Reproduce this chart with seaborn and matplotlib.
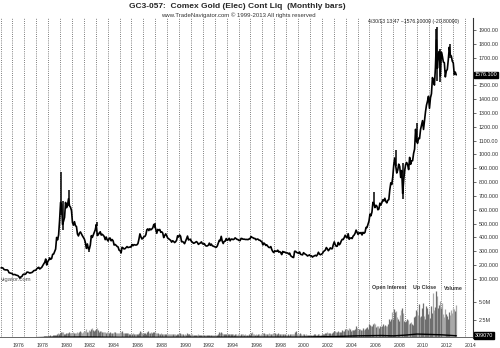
import numpy as np
import pandas as pd
import seaborn as sns
import matplotlib.pyplot as plt
from matplotlib.transforms import blended_transform_factory

# monthly closes (Comex gold, continuous liquid contract), one row per year
closes = [
    # 1975
    180, 181, 178, 168, 166, 165, 166, 161, 145, 143, 141, 139,
    # 1976
    131, 132, 132, 128, 126, 124, 116, 105, 115, 118, 131, 135,
    # 1977
    133, 137, 149, 149, 146, 142, 145, 146, 152, 160, 162, 163,
    # 1978
    174, 180, 184, 172, 178, 184, 197, 209, 220, 244, 201, 226,
    # 1979
    235, 252, 242, 248, 278, 280, 297, 316, 400, 383, 418, 524,
    # 1980
    653, 637, 494, 518, 545, 653, 615, 634, 680, 628, 619, 594,
    # 1981
    507, 489, 514, 485, 479, 425, 411, 431, 440, 426, 412, 400,
    # 1982
    388, 363, 321, 353, 318, 316, 346, 413, 400, 418, 438, 456,
    # 1983
    493, 414, 419, 433, 441, 417, 423, 416, 407, 384, 403, 383,
    # 1984
    374, 395, 395, 376, 385, 375, 345, 349, 343, 335, 331, 308,
    # 1985
    305, 288, 329, 324, 317, 319, 327, 334, 327, 329, 331, 330,
    # 1986
    349, 340, 348, 346, 345, 347, 356, 387, 426, 405, 389, 393,
    # 1987
    406, 407, 420, 456, 462, 450, 463, 455, 461, 470, 494, 487,
    # 1988
    460, 430, 458, 451, 458, 437, 441, 432, 399, 414, 426, 412,
    # 1989
    396, 390, 385, 379, 366, 376, 371, 363, 369, 380, 412, 403,
    # 1990
    418, 409, 369, 370, 365, 355, 372, 390, 410, 382, 385, 387,
    # 1991
    370, 366, 358, 360, 365, 370, 363, 350, 356, 360, 368, 355,
    # 1992
    352, 355, 342, 338, 339, 344, 359, 343, 352, 340, 337, 334,
    # 1993
    331, 329, 338, 358, 379, 376, 408, 373, 356, 372, 373, 392,
    # 1994
    379, 383, 394, 376, 388, 388, 384, 388, 397, 391, 386, 384,
    # 1995
    378, 377, 393, 392, 387, 388, 386, 385, 386, 384, 389, 389,
    # 1996
    407, 401, 398, 393, 393, 383, 388, 388, 381, 380, 373, 369,
    # 1997
    346, 360, 353, 342, 346, 336, 328, 327, 334, 312, 298, 291,
    # 1998
    304, 299, 301, 308, 294, 298, 290, 276, 299, 292, 295, 289,
    # 1999
    288, 288, 280, 287, 268, 262, 257, 255, 300, 300, 292, 289,
    # 2000
    285, 295, 278, 276, 274, 290, 283, 278, 274, 266, 270, 274,
    # 2001
    266, 267, 258, 264, 267, 271, 266, 275, 293, 280, 275, 279,
    # 2002
    283, 297, 303, 309, 327, 318, 304, 313, 325, 318, 319, 348,
    # 2003
    368, 347, 336, 337, 364, 347, 355, 374, 386, 385, 398, 416,
    # 2004
    403, 397, 427, 387, 395, 396, 392, 410, 417, 430, 453, 438,
    # 2005
    422, 435, 429, 436, 418, 437, 430, 437, 472, 472, 495, 518,
    # 2006
    569, 557, 584, 654, 646, 616, 633, 626, 600, 606, 648, 635,
    # 2007
    652, 672, 664, 683, 660, 650, 669, 673, 745, 795, 783, 838,
    # 2008
    926, 975, 916, 866, 887, 930, 914, 834, 884, 718, 816, 884,
    # 2009
    928, 942, 925, 891, 979, 929, 954, 955, 1008, 1039, 1182, 1097,
    # 2010
    1081, 1118, 1115, 1180, 1213, 1245, 1181, 1248, 1309, 1357, 1385, 1421,
    # 2011
    1334, 1410, 1439, 1556, 1536, 1502, 1628, 1829, 1624, 1725, 1746, 1566,
    # 2012
    1740, 1711, 1669, 1664, 1561, 1604, 1615, 1687, 1776, 1720, 1712, 1675,
    # 2013
    1662, 1578, 1596, 1576,
]
price_start = 1975

# extra high-low ranges for the volatile months: (decimal year, low, high)
range_years = [1980.04, 1980.21, 1980.71, 1982.46, 1983.13, 1987.96, 2006.37,
               2008.21, 2008.79, 2009.96, 2011.63, 2011.71, 2011.96, 2012.79]
range_lows = [560, 453, 630, 297, 480, 470, 640, 920, 681, 1090, 1620, 1535, 1523, 1700]
range_highs = [873, 660, 740, 330, 511, 502, 730, 1033, 935, 1227, 1911, 1923, 1760, 1798]

# monthly volume in millions of contracts, from 1978
volumes = [
    0.10, 0.12, 0.15, 0.12, 0.14, 0.16, 0.18, 0.22, 0.25, 0.30, 0.28, 0.26,
    0.30, 0.35, 0.32, 0.33, 0.38, 0.45, 0.42, 0.48, 0.60, 0.70, 0.55, 0.65,
    0.90, 0.80, 0.85, 0.60, 0.55, 0.70, 0.75, 0.65, 0.80, 0.70, 0.65, 0.70,
    0.75, 0.80, 0.70, 0.65, 0.70, 0.80, 0.75, 0.85, 0.95, 0.80, 0.75, 0.85,
    0.95, 1.00, 1.20, 0.90, 0.85, 1.10, 1.00, 1.30, 1.40, 1.10, 0.95, 1.05,
    1.20, 1.35, 1.10, 0.90, 0.95, 1.00, 0.85, 0.90, 0.80, 0.85, 0.75, 0.80,
    0.85, 0.75, 0.80, 0.70, 0.75, 0.70, 0.80, 0.90, 0.75, 0.70, 0.65, 0.75,
    0.80, 0.90, 0.95, 0.75, 0.70, 0.65, 0.70, 0.75, 0.65, 0.60, 0.55, 0.60,
    0.60, 0.65, 0.55, 0.50, 0.55, 0.50, 0.60, 0.75, 0.95, 0.80, 0.65, 0.60,
    0.70, 0.65, 0.60, 0.85, 0.95, 0.75, 0.70, 0.80, 0.75, 0.90, 0.80, 0.85,
    0.75, 0.70, 0.65, 0.60, 0.55, 0.65, 0.60, 0.55, 0.60, 0.55, 0.60, 0.55,
    0.60, 0.55, 0.50, 0.55, 0.60, 0.55, 0.50, 0.55, 0.45, 0.50, 0.60, 0.65,
    0.70, 0.60, 0.55, 0.50, 0.45, 0.50, 0.45, 0.75, 0.60, 0.55, 0.50, 0.45,
    0.60, 0.55, 0.45, 0.40, 0.45, 0.40, 0.45, 0.50, 0.40, 0.45, 0.40, 0.45,
    0.45, 0.40, 0.35, 0.40, 0.35, 0.40, 0.45, 0.40, 0.35, 0.40, 0.35, 0.40,
    0.40, 0.35, 0.45, 0.55, 0.80, 0.70, 0.85, 0.75, 0.60, 0.55, 0.60, 0.55,
    0.55, 0.50, 0.60, 0.55, 0.50, 0.55, 0.50, 0.45, 0.55, 0.50, 0.45, 0.50,
    0.50, 0.45, 0.55, 0.60, 0.50, 0.45, 0.50, 0.45, 0.40, 0.45, 0.50, 0.45,
    0.70, 0.80, 0.55, 0.50, 0.45, 0.50, 0.45, 0.55, 0.50, 0.45, 0.55, 0.60,
    0.65, 0.70, 0.55, 0.60, 0.50, 0.55, 0.75, 0.60, 0.55, 0.60, 0.70, 0.65,
    0.70, 0.60, 0.55, 0.65, 0.50, 0.55, 0.50, 0.55, 0.60, 0.55, 0.50, 0.45,
    0.45, 0.50, 0.45, 0.50, 0.55, 0.60, 0.50, 0.55, 0.85, 0.95, 0.60, 0.50,
    0.50, 0.65, 0.55, 0.45, 0.50, 0.55, 0.45, 0.50, 0.40, 0.45, 0.40, 0.45,
    0.45, 0.40, 0.45, 0.40, 0.55, 0.50, 0.45, 0.40, 0.60, 0.50, 0.45, 0.40,
    0.50, 0.60, 0.55, 0.65, 0.75, 0.80, 0.70, 0.65, 0.70, 0.60, 0.65, 0.80,
    0.95, 1.00, 0.90, 0.80, 0.95, 0.85, 0.90, 0.85, 1.10, 1.00, 0.95, 1.20,
    1.30, 1.20, 1.10, 1.40, 1.25, 1.00, 1.10, 1.05, 1.15, 1.30, 1.60, 1.40,
    1.10, 1.20, 1.30, 1.15, 1.10, 1.35, 1.05, 1.20, 1.40, 1.50, 1.30, 1.90,
    1.80, 1.70, 1.60, 2.00, 2.10, 1.90, 1.50, 1.60, 1.70, 1.40, 1.60, 1.50,
    1.60, 1.90, 1.70, 1.80, 1.70, 1.60, 1.90, 2.60, 2.40, 2.70, 3.60, 2.60,
    4.00, 3.60, 3.80, 2.90, 2.60, 2.40, 3.20, 3.90, 4.10, 3.50, 2.30, 2.20,
    2.40, 2.70, 2.50, 1.90, 2.10, 2.20, 1.90, 1.80, 2.90, 3.00, 3.90, 3.60,
    3.20, 4.70, 2.90, 3.10, 4.20, 4.80, 3.10, 2.70, 3.40, 4.40, 4.20, 3.30,
    3.80, 2.80, 4.50, 3.50, 6.30, 3.90, 4.30, 6.60, 5.90, 4.10, 4.60, 5.10,
    4.20, 4.90, 3.40, 2.90, 4.00, 3.30, 3.00, 2.70, 3.60, 3.20, 3.90, 3.50,
    4.20, 4.00, 3.80, 4.60,
]
volume_start = 1978

# yearly open interest, millions of contracts
oi_years = [1978, 1980, 1982, 1985, 1990, 1995, 2000, 2003, 2005, 2007, 2008, 2009, 2010, 2011, 2012, 2013.3]
oi_values = [0.05, 0.12, 0.14, 0.10, 0.10, 0.12, 0.12, 0.20, 0.30, 0.35, 0.30, 0.40, 0.55, 0.50, 0.45, 0.31]

price_ticks = list(range(100, 2000, 100))
year_labels = list(range(1976, 2015, 2))

price = pd.DataFrame({"t": price_start + (np.arange(len(closes)) + 0.5) / 12, "close": closes})

# up/down month for each volume bar, taken from the closes by month offset
offset = (volume_start - price_start) * 12
chg = np.diff(np.asarray(closes, dtype=float))
up_flags = [chg[offset + i - 1] >= 0 for i in range(len(volumes))]
vol = pd.DataFrame({"t": volume_start + (np.arange(len(volumes)) + 0.5) / 12,
                    "volume": volumes, "up": up_flags})

sns.set_style("white")
plt.rcParams["font.family"] = ["Liberation Sans", "DejaVu Sans"]

W, H = 500, 348
fig = plt.figure(figsize=(5, 3.48), dpi=100)
ax = fig.add_axes([0, 1 - 290 / H, 473 / W, 272 / H])
axv = fig.add_axes([0, 1 - 338 / H, 473 / W, 48 / H], sharex=ax)

xmin, xmax = 1974.95, 2014.7
grid_kw = dict(color="#555555", lw=0.6, ls=(0, (1, 1.6)))

# price panel
sns.lineplot(data=price, x="t", y="close", ax=ax, color="black", lw=1.2, estimator=None)
ax.vlines(range_years, range_lows, range_highs, color="black", lw=1.1)
ax.set_xlim(xmin, xmax)
ax.set_ylim(20, 1987)
ax.set_yticks(price_ticks)
ax.set_yticklabels(["" if v == 1600 else (f"{v:.2f}" if v >= 1000 else f"{v:.3f}")
                    for v in price_ticks])

# volume panel
up = vol[vol["up"]]
dn = vol[~vol["up"]]
axv.vlines(dn["t"], 0, dn["volume"], color="#a9a9a9", lw=0.9)
axv.vlines(up["t"], 0, up["volume"], color="#6e6e6e", lw=0.9)
sns.lineplot(x=oi_years, y=oi_values, ax=axv, color="black", lw=1.0)
axv.set_ylim(0, 6.67)
axv.set_yticks([2.5, 5.0])
axv.set_yticklabels(["2.5M", "5.0M"])
axv.set_xticks(year_labels)
axv.set_xticklabels([str(y) for y in year_labels])
for lab in axv.get_xticklabels():
    lab.set_horizontalalignment("left")

for a in (ax, axv):
    a.set_xlabel("")
    a.set_ylabel("")
    for y in range(1975, 2015):
        a.axvline(y, **grid_kw, zorder=0)
    for s in ("left", "top", "bottom"):
        a.spines[s].set_visible(False)
    a.spines["right"].set_color("#333333")
    a.spines["right"].set_linewidth(0.8)
    a.yaxis.tick_right()
    a.tick_params(axis="y", which="both", right=True, length=2, width=0.5,
                  labelsize=3.9, pad=2, colors="#333333")
ax.tick_params(axis="x", bottom=False, labelbottom=False)
axv.tick_params(axis="x", bottom=False, labelsize=3.8, pad=0.4, colors="#333333")
axv.axhline(0.02, color="#666666", lw=1.4)

# last value markers
tr = blended_transform_factory(ax.transAxes, ax.transData)
ax.text(1.004, 1576, "1576.100", transform=tr, ha="left", va="center", fontsize=3.9,
        color="white", clip_on=False, bbox=dict(boxstyle="square,pad=0.15", fc="black", ec="black"))
trv = blended_transform_factory(axv.transAxes, axv.transData)
axv.text(1.004, 0.31, "309070", transform=trv, ha="left", va="center", fontsize=3.9,
         color="white", clip_on=False, bbox=dict(boxstyle="square,pad=0.15", fc="black", ec="black"))

# header and labels
fig.text(237 / W, 1 - 7 / H, "GC3-057:  Comex Gold (Elec) Cont Liq  (Monthly bars)",
         ha="center", va="center", fontsize=6, fontweight="bold")
fig.text(238 / W, 1 - 15.5 / H, "www.TradeNavigator.com \u00a9 1999-2013 All rights reserved",
         ha="center", va="center", fontsize=4.3, color="#333333")
fig.text(368 / W, 1 - 21 / H, "4/30/13 13:47 ~1576.10000 (-20.80000)",
         ha="left", va="center", fontsize=3.7, color="#222222")
for xp, txt in [(372, "Open Interest"), (413, "Up Close"), (444, "Volume")]:
    fig.text(xp / W, 1 - 288 / H, txt, ha="left", va="center", fontsize=3.8,
             fontweight="bold", color="#333333")
fig.text(1 / W, 1 - 279 / H, "vigator.com", ha="left", va="center",
         fontsize=4.3, color="#555555")

fig.savefig("out.png", dpi=100)
